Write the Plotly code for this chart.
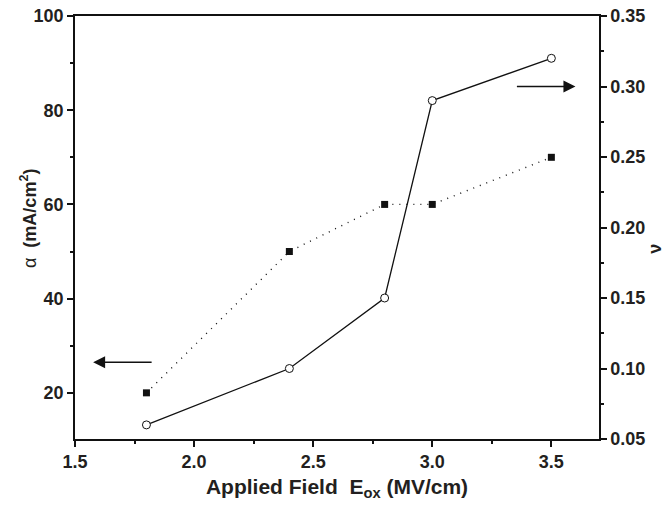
import plotly.graph_objects as go

field = [1.8, 2.4, 2.8, 3.0, 3.5]
alpha = [20, 50, 60, 60, 70]
nu = [0.06, 0.10, 0.15, 0.29, 0.32]

x_ticks = [1.5, 2.0, 2.5, 3.0, 3.5]
x_ticklabels = ["1.5", "2.0", "2.5", "3.0", "3.5"]
yl_ticks = [20, 40, 60, 80, 100]
yr_ticks = [0.05, 0.10, 0.15, 0.20, 0.25, 0.30, 0.35]
yr_ticklabels = ["0.05", "0.10", "0.15", "0.20", "0.25", "0.30", "0.35"]

FONT = "Liberation Sans"
TXT = "#231f20"

fig = go.Figure()
fig.add_trace(go.Scatter(
    x=field, y=alpha, mode="lines+markers",
    line=dict(color="#111", width=1.4, dash="1px,6px"),
    marker=dict(symbol="square", size=7, color="#111", line=dict(color="#111", width=0)),
    yaxis="y", showlegend=False))
fig.add_trace(go.Scatter(
    x=field, y=nu, mode="lines+markers",
    line=dict(color="#111", width=1.3),
    marker=dict(symbol="circle", size=8, color="white", line=dict(color="#111", width=1)),
    yaxis="y2", showlegend=False))

axfont = dict(family=FONT, size=18, color=TXT, weight="bold")
xtitlefont = dict(family=FONT, size=21, color=TXT, weight="bold")
ytitlefont = dict(family=FONT, size=18, color=TXT, weight="bold")

fig.update_layout(
    width=666, height=505,
    margin=dict(l=75, r=67, t=16, b=66, autoexpand=False),
    plot_bgcolor="white", paper_bgcolor="white",
    xaxis=dict(
        range=[1.5, 3.7], tickvals=x_ticks, ticktext=x_ticklabels,
        automargin=False,
        showline=True, linecolor="#111", linewidth=1.5, mirror=True,
        ticks="outside", ticklen=6, tickwidth=1.5, tickcolor="#111",
        minor=dict(ticks="outside", ticklen=3, tickwidth=1.5, tickcolor="#111",
                   dtick=0.25, tick0=1.5),
        showgrid=False, zeroline=False,
        tickfont=axfont,
        title=dict(text="Applied Field  E<sub>ox</sub> (MV/cm)", font=xtitlefont, standoff=8),
    ),
    yaxis=dict(
        range=[10.2, 100], tickvals=yl_ticks,
        automargin=False,
        showline=True, linecolor="#111", linewidth=1.5,
        ticks="outside", ticklen=6, tickwidth=1.5, tickcolor="#111",
        minor=dict(ticks="outside", ticklen=3, tickwidth=1.5, tickcolor="#111",
                   dtick=10, tick0=0),
        showgrid=False, zeroline=False,
        tickfont=axfont,
    ),
    yaxis2=dict(
        range=[0.05, 0.35], tickvals=yr_ticks, ticktext=yr_ticklabels,
        overlaying="y", side="right", automargin=False,
        showline=True, linecolor="#111", linewidth=1.5,
        ticks="outside", ticklen=6, tickwidth=1.5, tickcolor="#111",
        minor=dict(ticks="outside", ticklen=3, tickwidth=1.5, tickcolor="#111",
                   dtick=0.025, tick0=0.05),
        showgrid=False, zeroline=False,
        tickfont=axfont,
    ),
    annotations=[
        dict(x=0, y=0.52, xref="paper", yref="paper", xshift=-47,
             xanchor="center", yanchor="middle", textangle=-90, showarrow=False,
             text="<span style='font-weight:normal'>α</span>  (mA/cm<sup>2</sup>)",
             font=ytitlefont),
        dict(x=1, y=0.45, xref="paper", yref="paper", xshift=56,
             xanchor="center", yanchor="middle", textangle=-90, showarrow=False,
             text="ν", font=ytitlefont),
        dict(x=1.576, y=26.5, xref="x", yref="y",
             ax=1.828, ay=26.5, axref="x", ayref="y",
             text="", showarrow=True, arrowhead=2, arrowsize=1.6,
             arrowwidth=1.5, arrowcolor="#111"),
        dict(x=3.601, y=0.30, xref="x", yref="y2",
             ax=3.349, ay=0.30, axref="x", ayref="y2",
             text="", showarrow=True, arrowhead=2, arrowsize=1.6,
             arrowwidth=1.5, arrowcolor="#111"),
    ],
)

fig.write_html("out.html")
